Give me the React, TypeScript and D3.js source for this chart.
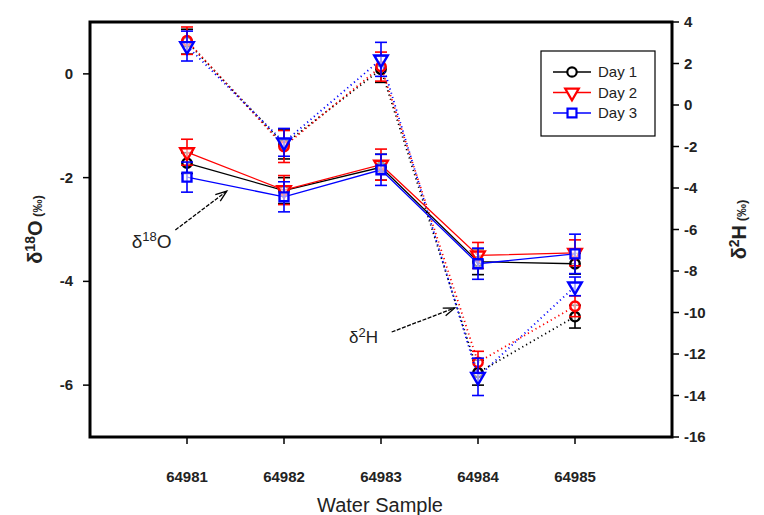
import React from "react";
import * as d3 from "d3";

// water samples on the x axis
const samples = [64981, 64982, 64983, 64984, 64985];

// δ18O (left axis), solid lines
const o18Day1 = [-1.72, -2.25, -1.8, -3.62, -3.66];
const o18Day2 = [-1.51, -2.24, -1.75, -3.5, -3.45];
const o18Day3 = [-1.99, -2.37, -1.85, -3.66, -3.47];
const o18Err1 = [0.2, 0.25, 0.25, 0.25, 0.2];
const o18Err2 = [0.25, 0.28, 0.3, 0.25, 0.25];
const o18Err3 = [0.29, 0.29, 0.3, 0.3, 0.38];

// δ2H (right axis), dotted lines
const h2Day1 = [3.05, -1.9, 1.72, -12.9, -10.2];
const h2Day2 = [3.1, -2.0, 1.85, -12.4, -9.7];
const h2Day3 = [2.84, -1.8, 2.2, -13.1, -8.74];
const h2Err1 = [0.6, 0.7, 0.63, 0.6, 0.55];
const h2Err2 = [0.66, 0.77, 0.7, 0.53, 0.5];
const h2Err3 = [0.72, 0.67, 0.82, 0.9, 0.45];

const leftTicks = [0, -2, -4, -6];
const rightTicks = [4, 2, 0, -2, -4, -6, -8, -10, -12, -14, -16];
const days = ["Day 1", "Day 2", "Day 3"];
const colors = ["#000000", "#ff0000", "#0000ff"];

const W = 764;
const H = 515;
const L = 90, R = 672, T = 22, B = 437;
const FONT = "'Liberation Sans', Arial, sans-serif";

const x = d3.scaleLinear().domain([64980, 64986]).range([L, R]);
const yL = d3.scaleLinear().domain([-7, 1]).range([B, T]);
const yR = d3.scaleLinear().domain([-16, 4]).range([B, T]);

const symCircle = d3.symbol().type(d3.symbolCircle).size(70)();
const symTri = d3.symbol().type(d3.symbolTriangle).size(80)();
const symSquare = d3.symbol().type(d3.symbolSquare).size(80)();

type Series = { vals: number[]; err: number[]; color: string; sym: string; flip?: boolean };

const o18Series: Series[] = [
  { vals: o18Day1, err: o18Err1, color: colors[0], sym: symCircle },
  { vals: o18Day2, err: o18Err2, color: colors[1], sym: symTri, flip: true },
  { vals: o18Day3, err: o18Err3, color: colors[2], sym: symSquare },
];
const h2Series: Series[] = [
  { vals: h2Day1, err: h2Err1, color: colors[0], sym: symCircle },
  { vals: h2Day2, err: h2Err2, color: colors[1], sym: symCircle },
  { vals: h2Day3, err: h2Err3, color: colors[2], sym: symTri, flip: true },
];

const Arrow = ({ x1, y1, x2, y2 }: { x1: number; y1: number; x2: number; y2: number }) => {
  const a = Math.atan2(y2 - y1, x2 - x1);
  const len = 12;
  const p1 = [x2 - len * Math.cos(a - 0.35), y2 - len * Math.sin(a - 0.35)];
  const p2 = [x2 - len * Math.cos(a + 0.35), y2 - len * Math.sin(a + 0.35)];
  return (
    <g stroke="#000" strokeWidth={1.3} fill="none">
      <line x1={x1} y1={y1} x2={x2} y2={y2} strokeDasharray="4 1.5" />
      <polyline points={`${p1[0]},${p1[1]} ${x2},${y2} ${p2[0]},${p2[1]}`} />
    </g>
  );
};

const drawSeries = (s: Series, y: d3.ScaleLinear<number, number>, dotted: boolean, key: string) => {
  const line = d3
    .line<number>()
    .x((_, i) => x(samples[i]))
    .y((v) => y(v));
  return (
    <g key={key}>
      <path
        d={line(s.vals) || ""}
        fill="none"
        stroke={s.color}
        strokeWidth={dotted ? 1.8 : 1.3}
        strokeDasharray={dotted ? "1.2 3.2" : undefined}
      />
      {s.vals.map((v, i) => {
        const cx = x(samples[i]);
        const top = y(v + s.err[i]);
        const bot = y(v - s.err[i]);
        return (
          <g key={i} stroke={s.color} strokeWidth={1.6}>
            <line x1={cx} x2={cx} y1={top} y2={bot} />
            <line x1={cx - 6} x2={cx + 6} y1={top} y2={top} />
            <line x1={cx - 6} x2={cx + 6} y1={bot} y2={bot} />
          </g>
        );
      })}
      {s.vals.map((v, i) => (
        <path
          key={"m" + i}
          d={s.sym}
          transform={`translate(${x(samples[i])},${y(v)})${s.flip ? " rotate(180)" : ""}`}
          fill="#fff"
          fillOpacity={0.6}
          stroke={s.color}
          strokeWidth={2.4}
        />
      ))}
    </g>
  );
};

export default function App() {
  const legendX = 541, legendY = 51;
  return (
    <div style={{ position: "fixed", left: 0, top: 0 }}>
      <svg width={W} height={H} style={{ display: "block", background: "#fff" }} fontFamily={FONT}>
        {/* δ2H dotted series */}
        {h2Series.map((s, i) => drawSeries(s, yR, true, "h" + i))}
        {/* δ18O solid series */}
        {o18Series.map((s, i) => drawSeries(s, yL, false, "o" + i))}

        {/* frame */}
        <rect x={L} y={T} width={R - L} height={B - T} fill="none" stroke="#000" strokeWidth={3} />

        {/* left axis */}
        {leftTicks.map((t) => (
          <g key={"l" + t}>
            <line x1={L - 7} x2={L} y1={yL(t)} y2={yL(t)} stroke="#000" strokeWidth={1.5} />
            <text x={L - 17} y={yL(t) + 5} textAnchor="end" fontSize={15} fontWeight="bold" fill="#222">
              {t}
            </text>
          </g>
        ))}
        {/* right axis */}
        {rightTicks.map((t) => (
          <g key={"r" + t}>
            <line x1={R} x2={R + 7} y1={yR(t)} y2={yR(t)} stroke="#000" strokeWidth={1.5} />
            <text x={R + 12} y={yR(t) + 5} textAnchor="start" fontSize={15} fontWeight="bold" fill="#222">
              {t}
            </text>
          </g>
        ))}
        {/* bottom axis */}
        {samples.map((s) => (
          <g key={"b" + s}>
            <line x1={x(s)} x2={x(s)} y1={B} y2={B + 7} stroke="#000" strokeWidth={1.5} />
            <text x={x(s)} y={B + 45} textAnchor="middle" fontSize={15} fontWeight="bold" fill="#222">
              {s}
            </text>
          </g>
        ))}

        {/* axis titles */}
        <text x={380} y={512} textAnchor="middle" fontSize={20} fill="#222">
          Water Sample
        </text>
        <text transform={`translate(42,${(T + B) / 2}) rotate(-90)`} textAnchor="middle" fontWeight="bold" fill="#222">
          <tspan fontSize={20}>δ</tspan>
          <tspan fontSize={14} dy={-7}>18</tspan>
          <tspan fontSize={20} dy={7}>O</tspan>
          <tspan fontSize={13}> (‰)</tspan>
        </text>
        <text transform={`translate(746,${(T + B) / 2}) rotate(-90)`} textAnchor="middle" fontWeight="bold" fill="#222">
          <tspan fontSize={20}>δ</tspan>
          <tspan fontSize={14} dy={-7}>2</tspan>
          <tspan fontSize={20} dy={7}>H</tspan>
          <tspan fontSize={13}> (‰)</tspan>
        </text>

        {/* annotations */}
        <text x={x(64980.43)} y={yL(-3.36)} fontSize={19} fill="#222">
          δ<tspan fontSize={13} dy={-7}>18</tspan>
          <tspan dy={7}>O</tspan>
        </text>
        <Arrow x1={x(64980.88)} y1={yL(-3.01)} x2={x(64981.41)} y2={yL(-2.26)} />
        <text x={x(64982.67)} y={yR(-11.47)} fontSize={17} fill="#222">
          δ<tspan fontSize={13} dy={-6}>2</tspan>
          <tspan dy={6}>H</tspan>
        </text>
        <Arrow x1={x(64983.11)} y1={yR(-10.94)} x2={x(64983.76)} y2={yR(-9.78)} />

        {/* legend */}
        <rect x={legendX} y={legendY} width={114} height={85} fill="#fff" stroke="#000" strokeWidth={1.2} />
        {days.map((d, i) => {
          const ly = legendY + 21 + i * 20.5;
          const s = o18Series[i];
          return (
            <g key={d}>
              <line x1={legendX + 12} x2={legendX + 50} y1={ly} y2={ly} stroke={s.color} strokeWidth={1.5} />
              <path
                d={s.sym}
                transform={`translate(${legendX + 31},${ly})${s.flip ? " rotate(180)" : ""}`}
                fill="#fff"
                stroke={s.color}
                strokeWidth={2.2}
              />
              <text x={legendX + 57} y={ly + 5} fontSize={15} fill="#222">
                {d}
              </text>
            </g>
          );
        })}
      </svg>
    </div>
  );
}
